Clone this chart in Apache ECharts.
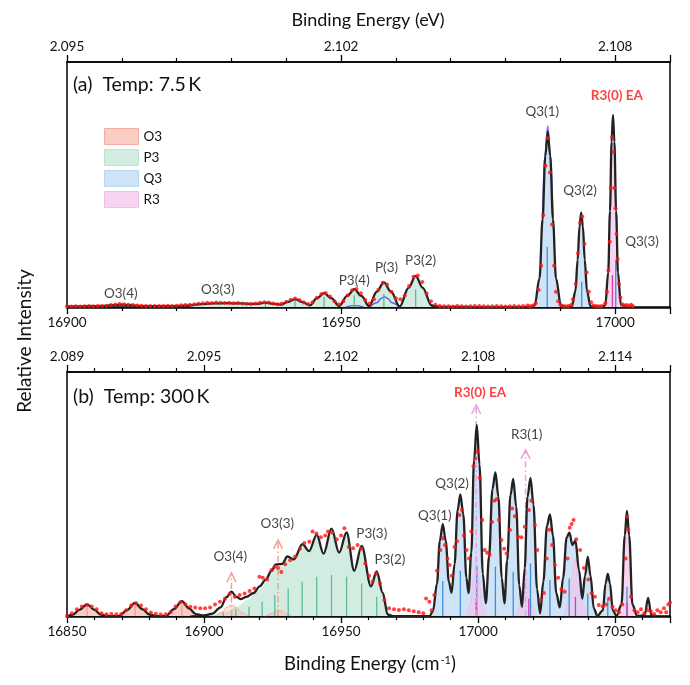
<!DOCTYPE html>
<html><head><meta charset="utf-8">
<script src="https://cdn.jsdelivr.net/npm/echarts@6.0.0/dist/echarts.min.js"></script>
<style>html,body{margin:0;padding:0;background:#fff}#c{width:690px;height:685px}</style>
</head><body><div id="c"></div>
<script>
// ---------- tick labels ----------
const cmTicksA = [16900, 16950, 17000];
const evTicksA = ['2.095', '2.102', '2.108'];
const cmTicksB = [16850, 16900, 16950, 17000, 17050];
const evTicksB = ['2.089', '2.095', '2.102', '2.108', '2.114'];
const legendNames = ['O3', 'P3', 'Q3', 'R3'];

// ---------- panel (a) 7.5 K ----------
const fitA = [[16900,0.003],[16904,0.004],[16907,0.006],[16908.5,0.01],[16910,0.013],[16911.5,0.01],[16913.5,0.005],[16917,0.004],[16920,0.005],[16922.5,0.009],[16924.5,0.015],[16926.5,0.019],[16929,0.02],[16931.5,0.019],[16933.3,0.016],[16934.8,0.017],[16936.2,0.023],[16937.6,0.017],[16939,0.013],[16940.3,0.027],[16941.6,0.041],[16942.9,0.027],[16944.3,0.009],[16945.6,0.046],[16946.9,0.072],[16948.2,0.046],[16949.65,0.005],[16951.1,0.058],[16952.4,0.093],[16953.7,0.058],[16955.1,0.004],[16956.5,0.08],[16957.8,0.128],[16959.1,0.08],[16960.7,0.003],[16962.3,0.1],[16963.6,0.162],[16964.9,0.1],[16966.5,0.008],[16968,0.001],[16975,0],[16984.5,0],[16985.3,0.008],[16986.2,0.15],[16986.75,0.457],[16987.25,0.785],[16987.7,0.913],[16988.15,0.785],[16988.65,0.457],[16989.2,0.15],[16990.1,0.008],[16991,0],[16992.1,0.004],[16992.75,0.085],[16993.15,0.245],[16993.49,0.42],[16993.8,0.491],[16994.11,0.42],[16994.45,0.245],[16994.85,0.085],[16995.5,0.004],[16997.5,0],[16998.2,0.01],[16998.73,0.18],[16999.05,0.5],[16999.34,0.86],[16999.6,1.0],[16999.86,0.86],[17000.17,0.5],[17000.5,0.18],[17001.05,0.01],[17002.3,0]];
const q1TipA = [[16986.75,0.47],[16987.25,0.81],[16987.7,0.943],[16988.15,0.81],[16988.65,0.47]];
const blueCompA = [[16955.3,0.002],[16956.5,0.022],[16957.3,0.045],[16957.9,0.054],[16958.5,0.045],[16959.3,0.022],[16960.5,0.002]];
const blueCompA2 = [[16950.8,0],[16952.5,0.007],[16954.2,0]];
const dotsA_x0 = 16900, dotsA_step = 0.8;
const dotsA_flat = [0.004,0.003,0.004,0.003,0.004,0.005,0.004,0.006,0.005,0.007,
 0.010,0.013,0.016,0.015,0.012,0.010,0.008,0.007,0.006,0.005,
 0.006,0.005,0.006,0.007,0.006,0.007,0.009,0.010,0.012,0.015,
 0.017,0.020,0.022,0.021,0.023,0.022,0.021,0.022,0.020,0.021,
 0.019,0.017,0.016,0.018,0.022,0.025,0.023,0.018,0.014,0.018,
 0.028,0.038,0.044,0.037,0.024,0.016,0.025,0.048,0.068,0.073,
 0.055,0.030,0.014,0.030,0.062,0.088,0.094,0.072,0.038,0.018,
 0.040,0.090,0.127,0.118,0.080,0.046,0.040,0.060,0.110,0.158,
 0.164,0.130,0.070,0.030,0.012,0.006,0.004,0.004,0.003,0.005,
 0.004,0.003,0.004,0.006,0.005,0.004,0.003,0.004,0.005,0.004,
 0.003,0.004,0.005,0.004,0.006,0.008];
const dotsA_peaks = [[16984.5,0.004],[16985.0,0.008],[16985.5,0.02],[16986.05,0.089],[16986.5,0.215],[16986.9,0.479],[16987.3,0.736],[16987.7,0.879],[16988.1,0.7],[16988.5,0.43],[16988.85,0.215],[16989.2,0.08],[16989.6,0.03],[16990.0,0.012],[16990.5,0.006],[16991.0,0.004],[16991.5,0.005],[16992.0,0.012],[16992.3,0.04],[16992.8,0.12],[16993.2,0.28],[16993.6,0.44],[16994.0,0.47],[16994.4,0.33],[16994.8,0.18],[16995.2,0.08],[16995.6,0.025],[16996.0,0.008],[16996.5,0.005],[16997.0,0.004],[16997.5,0.006],[16998.2,0.02],[16998.5,0.08],[16998.75,0.19],[16999.0,0.34],[16999.2,0.62],[16999.45,0.887],[16999.65,0.806],[16999.85,0.62],[17000.05,0.514],[17000.25,0.38],[17000.45,0.25],[17000.7,0.12],[17000.95,0.05],[17001.3,0.015],[17001.7,0.008],[17002.1,0.01],[17002.5,0.007],[17002.9,0.012],[17003.2,0.006]];
const p3SticksA = [[16936.2,0.024],[16941.6,0.036],[16946.9,0.054],[16952.4,0.062],[16957.8,0.068],[16963.6,0.092]];
const q3SticksA = [[16987.6,0.314],[16993.9,0.132],[17000.1,0.245]];
const r3SticksA = [[16999.5,0.167]];
const labelsA = [['O3(4)',16909.8,0.068],['O3(3)',16927.5,0.089],['P3(4)',16952.4,0.137],['P(3)',16958.3,0.203],['P3(2)',16964.5,0.241],['Q3(1)',16986.7,1.017],['Q3(2)',16993.6,0.604],['Q3(3)',17004.9,0.34]];
const eaLabelA = ['R3(0) EA',17000.3,1.099];

// ---------- panel (b) 300 K ----------
const fitB = [[16850,0.0],[16852,0.006],[16854.5,0.032],[16857.3,0.061],[16860,0.032],[16862.5,0.006],[16865,0.0],[16869,0.0],[16872,0.032],[16874.8,0.069],[16877.5,0.036],[16880,0.008],[16883,0.0],[16886,0.0],[16889,0.036],[16891.9,0.078],[16894.5,0.04],[16897,0.01],[16900,0.003],[16903,0.012],[16906,0.045],[16908.2,0.098],[16910,0.127],[16911.8,0.1],[16913.3,0.088],[16915.5,0.1],[16918.1,0.12],[16920.3,0.155],[16922.5,0.19],[16924.6,0.235],[16926.1,0.268],[16928.5,0.272],[16930.4,0.31],[16932.8,0.295],[16935.9,0.375],[16938.3,0.338],[16941.1,0.423],[16943.6,0.325],[16946.5,0.455],[16949.3,0.33],[16952,0.435],[16954.8,0.236],[16957.5,0.365],[16960.9,0.155],[16963,0.232],[16965.2,0.12],[16967,0.008],[16969,0.0],[16975,0],[16982.3,0],[16983.5,0.025],[16985,0.17],[16986,0.39],[16987.1,0.479],[16988.2,0.39],[16989.3,0.18],[16990.3,0.121],[16991.4,0.27],[16992.5,0.55],[16993.5,0.634],[16994.6,0.53],[16995.7,0.2],[16996.5,0.12],[16997.5,0.33],[16998.5,0.81],[16999.5,0.995],[17000.5,0.79],[17001.7,0.22],[17002.8,0.066],[17004,0.31],[17005.2,0.66],[17006.3,0.748],[17007.4,0.62],[17008.6,0.2],[17009.6,0.066],[17010.6,0.29],[17011.8,0.63],[17012.8,0.714],[17013.9,0.57],[17015,0.16],[17016,0.048],[17017,0.25],[17018,0.62],[17019.1,0.72],[17020.2,0.58],[17021.5,0.14],[17022.6,0.014],[17023.8,0.18],[17025.1,0.47],[17026.2,0.53],[17027.3,0.42],[17028.5,0.12],[17029.8,0.045],[17031,0.2],[17032.3,0.41],[17033.3,0.434],[17034.4,0.37],[17035.5,0.392],[17036.8,0.24],[17038,0.09],[17039,0.21],[17040,0.309],[17041,0.21],[17042.2,0.04],[17043.5,0.0],[17045.5,0.03],[17046.5,0.17],[17047.3,0.219],[17048.1,0.17],[17049.1,0.03],[17050.5,0.0],[17052.3,0.06],[17053.5,0.42],[17054.3,0.548],[17055.1,0.42],[17056.3,0.06],[17058,0],[17060.8,0.005],[17062,0.095],[17063.2,0.005],[17065,0]];
const pRampB = [[16900,0],[16904,0.008],[16908,0.022],[16912,0.048],[16916,0.085],[16920,0.135],[16923,0.18]];
const o3Comp4B = [[16904,0],[16906.5,0.02],[16908.3,0.045],[16910,0.057],[16911.7,0.045],[16913.5,0.02],[16916,0]];
const o3Comp3B = [[16922.5,0],[16924.8,0.012],[16926.2,0.026],[16927.3,0.031],[16928.5,0.026],[16930,0.012],[16932,0]];
const r3Comp0B = [[16995.8,0],[16997.2,0.06],[16998.3,0.2],[16999.3,0.31],[17000.3,0.2],[17001.4,0.06],[17002.8,0]];
const r3Comp1B = [[17013.8,0],[17015.3,0.06],[17016.4,0.17],[17017.4,0.25],[17018.4,0.17],[17019.5,0.06],[17021,0]];
const r3Comp2B = [[17031.5,0],[17033,0.08],[17034.3,0.22],[17035.4,0.3],[17036.5,0.22],[17037.8,0.08],[17039.3,0]];
const dotsB = [[16850,0.0],[16851.8,0.014],[16853.6,0.035],[16855.4,0.05],[16857.2,0.058],[16859,0.05],[16860.8,0.035],[16862.6,0.015],[16864.4,0.009],[16866.2,0.01],[16868,0.009],[16869.8,0.011],[16871.6,0.03],[16873.4,0.055],[16875.2,0.066],[16877,0.055],[16878.8,0.035],[16880.6,0.018],[16882.4,0.012],[16884.2,0.008],[16886,0.009],[16887.8,0.02],[16889.6,0.05],[16891.4,0.072],[16893.2,0.06],[16895,0.048],[16896.8,0.045],[16898.6,0.04],[16900.4,0.04],[16902.2,0.045],[16904,0.06],[16905.8,0.075],[16907.6,0.09],[16909.4,0.115],[16911.2,0.1],[16913,0.11],[16914.8,0.118],[16916.6,0.13],[16918.4,0.144],[16920.2,0.205],[16921.4,0.2],[16923,0.19],[16924.6,0.24],[16925.8,0.257],[16927,0.25],[16928.2,0.23],[16929.6,0.27],[16931.4,0.29],[16933.2,0.31],[16935,0.35],[16936.6,0.38],[16938.4,0.387],[16939.6,0.44],[16941,0.43],[16942.6,0.41],[16944.2,0.42],[16945.2,0.44],[16946.8,0.435],[16948.4,0.4],[16950,0.42],[16951.2,0.457],[16952.8,0.36],[16954.4,0.353],[16956,0.37],[16957.4,0.35],[16958.8,0.274],[16960.2,0.21],[16961.5,0.18],[16962.8,0.22],[16964.2,0.17],[16965.8,0.083],[16967.5,0.04],[16969.3,0.036],[16971.1,0.031],[16972.9,0.036],[16974.7,0.03],[16976.5,0.025],[16978.3,0.02],[16980,0.015],[16981,0.092],[16982.2,0.074],[16983,0.03],[16984,0.11],[16985,0.236],[16986.2,0.344],[16987.1,0.405],[16987.9,0.37],[16988.8,0.3],[16989.6,0.266],[16990.4,0.21],[16991.4,0.36],[16992.3,0.39],[16993.2,0.526],[16994.1,0.552],[16994.8,0.42],[16995.8,0.344],[16996.7,0.3],[16997.5,0.44],[16998.3,0.78],[16999.0,0.82],[16999.7,0.856],[17000.6,0.72],[17001.5,0.5],[17002.4,0.344],[17003.3,0.33],[17004.2,0.318],[17005.1,0.49],[17006.0,0.6],[17006.8,0.61],[17007.6,0.5],[17008.5,0.396],[17009.5,0.35],[17010.4,0.326],[17011.6,0.448],[17012.4,0.56],[17013.4,0.52],[17014.6,0.413],[17015.8,0.41],[17017.0,0.465],[17018.5,0.552],[17019.4,0.6],[17020.7,0.474],[17021.6,0.344],[17022.8,0.083],[17024,0.12],[17025,0.3],[17026,0.45],[17027,0.37],[17028,0.266],[17029.2,0.2],[17030.4,0.14],[17031.6,0.127],[17032.6,0.3],[17033.4,0.46],[17034.1,0.48],[17034.8,0.5],[17035.8,0.4],[17037.2,0.344],[17038.6,0.25],[17040.2,0.19],[17041.4,0.12],[17042.6,0.1],[17044,0.057],[17045.4,0.05],[17046.6,0.06],[17047.8,0.09],[17049,0.05],[17050.2,0.03],[17051.4,0.02],[17052.6,0.06],[17053.8,0.3],[17054.3,0.517],[17054.8,0.45],[17055.8,0.1],[17057,0.03],[17058.2,0.02],[17059.4,0.035],[17060.6,0.015],[17061.8,0.03],[17063,0.025],[17064.2,0.01],[17065.4,0.03],[17066.6,0.02],[17067.8,0.04],[17068.6,0.02],[17069.4,0.06],[17070,0.07]];
const o3SticksB = [[16857.3,0.045],[16874.8,0.05],[16891.9,0.055]];
const p3SticksB = [[16907,0.02],[16911.6,0.035],[16916.4,0.048],[16921.2,0.075],[16925.8,0.109],[16930.7,0.144],[16935.8,0.179],[16941.1,0.205],[16946.5,0.214],[16952,0.205],[16957.5,0.17],[16963,0.1]];
const q3SticksB = [[16987.1,0.182],[16993.5,0.236],[16999.5,0.257],[17006.3,0.257],[17012.8,0.231],[17019.1,0.274],[17026.2,0.1875],[17033.2,0.196],[17040,0.118],[17047.3,0.087],[17054.3,0.153]];
const r3SticksB = [[16999.3,0.092],[17018.5,0.09],[17035.5,0.1],[17054.3,0.07]];
const o3ArrowsB = [[16910,0,0.224],[16927,0,0.396]];
const r3ArrowsB = [[16999.3,0,1.099],[17017.3,0,0.865]];
const labelsB = [['O3(4)',16909.6,0.307],['O3(3)',16926.7,0.483],['P3(3)',16961.2,0.431],['P3(2)',16967.8,0.292],['Q3(1)',16984.2,0.521],['Q3(2)',16990.5,0.691],['R3(1)',17017.7,0.946]];
const eaLabelB = ['R3(0) EA',17000.7,1.163];

// ---------- styles ----------
const FONT = 'Lato, "Noto Sans", sans-serif';
const C = {
  o3Fill:'#f9cdc4', o3Edge:'#f2ad9f', o3Stick:'#f39a88',
  p3Fill:'#d3ece1', p3Edge:'#bfe2d2', p3Stick:'#5fbb97',
  q3Fill:'#cfe3f6', q3Edge:'#b6d5f1', q3Stick:'#3b8fdc',
  r3Fill:'#f7d4f0', r3Edge:'#f0bfe6', r3Stick:'#d63ba8',
  r3Arrow:'#f09ce2', o3Arrow:'#f4a090', fit:'#222222', dot:'#ff1414'
};
const inRange = (arr, a, b) => arr.filter(p => p[0] >= a && p[0] <= b);
const dotsA = dotsA_flat.map((v, i) => [+(dotsA_x0 + i * dotsA_step).toFixed(2), v]).concat(dotsA_peaks);

function fill(name, data, color, gi, opacity) {
  return {name, type:'line', xAxisIndex: gi*2, yAxisIndex: gi, data, smooth:0.35, smoothMonotone:'x',
    showSymbol:false, symbol:'none', lineStyle:{width:0}, itemStyle:{color},
    areaStyle:{color, opacity: opacity == null ? 1 : opacity}, silent:true, z:1};
}
function compLine(data, color, gi, width, areaColor) {
  const s = {type:'line', xAxisIndex: gi*2, yAxisIndex: gi, data, smooth:0.4, smoothMonotone:'x',
    showSymbol:false, symbol:'none', lineStyle:{width: width, color}, silent:true, z:2};
  if (areaColor) s.areaStyle = {color: areaColor};
  return s;
}
function sticks(data, color, gi) {
  return {type:'custom', coordinateSystem:'cartesian2d', xAxisIndex: gi*2, yAxisIndex: gi, data, z:3, silent:true,
    encode:{x:0, y:1},
    renderItem:(params, api) => {
      const p0 = api.coord([api.value(0), 0]);
      const p1 = api.coord([api.value(0), api.value(1)]);
      return {type:'line', shape:{x1:p0[0], y1:p0[1], x2:p1[0], y2:p1[1]}, style:{stroke:color, lineWidth:1.3}};
    }};
}
function arrows(data, color, gi) {
  return {type:'custom', coordinateSystem:'cartesian2d', xAxisIndex: gi*2, yAxisIndex: gi, data, z:4, silent:true,
    encode:{x:0, y:[1,2]},
    renderItem:(params, api) => {
      const p0 = api.coord([api.value(0), api.value(1)]);
      const p1 = api.coord([api.value(0), api.value(2)]);
      return {type:'group', children:[
        {type:'line', shape:{x1:p0[0], y1:p0[1], x2:p1[0], y2:p1[1]}, style:{stroke:color, lineWidth:1.5, lineDash:[6,3,1.5,3]}},
        {type:'polyline', shape:{points:[[p1[0]-4.5, p1[1]+9], [p1[0], p1[1]], [p1[0]+4.5, p1[1]+9]]}, style:{stroke:color, fill:null, lineWidth:1.5}}
      ]};
    }};
}
function labels(list, ea, gi) {
  const data = list.map(l => ({name:l[0], value:[l[1], l[2]]}));
  data.push({name:ea[0], value:[ea[1], ea[2]], label:{color:'#ff1010', fontWeight:'bold'}});
  return {type:'scatter', xAxisIndex: gi*2, yAxisIndex: gi, data, symbolSize:0, silent:true, z:10,
    label:{show:true, position:'inside', formatter:p => p.name, fontSize:13.5, color:'#111', fontFamily:FONT}};
}

function xAxisPair(gi, min, max, cmTicks, evTicks) {
  const common = {type:'value', gridIndex: gi, min, max, interval:50,
    axisLine:{show:true, lineStyle:{color:'#000', width:1.5}},
    axisTick:{show:true, length:7, lineStyle:{color:'#000', width:1.3}},
    minorTick:{show:true, splitNumber:5, length:4, lineStyle:{color:'#000', width:1.2}},
    splitLine:{show:false}, minorSplitLine:{show:false}};
  return [
    Object.assign({}, common, {position:'bottom',
      axisLabel:{show:true, margin:8, fontSize:13.5, color:'#111', fontFamily:FONT, showMaxLabel:false,
        formatter:v => cmTicks.indexOf(v) >= 0 ? String(v) : ''}}),
    Object.assign({}, common, {position:'top',
      axisLabel:{show:true, margin:8, fontSize:13.5, color:'#111', fontFamily:FONT, showMaxLabel:false,
        formatter:v => { const i = cmTicks.indexOf(v); return i >= 0 ? evTicks[i] : ''; }}})
  ];
}
const yAxisCommon = {type:'value', min:-0.005, axisLine:{show:false}, axisTick:{show:false}, axisLabel:{show:false}, splitLine:{show:false}};

const option = {
  backgroundColor:'#fff',
  animation:false,
  textStyle:{fontFamily:FONT},
  grid:[
    {left:67, right:20, top:62, height:246, show:true, borderColor:'#000', borderWidth:1.5, backgroundColor:'transparent'},
    {left:67, right:20, top:372, height:245, show:true, borderColor:'#000', borderWidth:1.5, backgroundColor:'transparent'}
  ],
  xAxis: xAxisPair(0, 16900, 17010, cmTicksA, evTicksA).concat(xAxisPair(1, 16850, 17070, cmTicksB, evTicksB)),
  yAxis:[Object.assign({gridIndex:0, max:1.276}, yAxisCommon), Object.assign({gridIndex:1, max:1.271}, yAxisCommon)],
  legend:{
    left:99, top:123, orient:'vertical', itemWidth:34, itemHeight:16, itemGap:4, selectedMode:false,
    textStyle:{fontSize:13.5, color:'#111', fontFamily:FONT},
    data:[
      {name:legendNames[0], icon:'rect', itemStyle:{color:C.o3Fill, borderColor:C.o3Edge, borderWidth:1}},
      {name:legendNames[1], icon:'rect', itemStyle:{color:C.p3Fill, borderColor:C.p3Edge, borderWidth:1}},
      {name:legendNames[2], icon:'rect', itemStyle:{color:C.q3Fill, borderColor:C.q3Edge, borderWidth:1}},
      {name:legendNames[3], icon:'rect', itemStyle:{color:C.r3Fill, borderColor:C.r3Edge, borderWidth:1}}
    ]
  },
  graphic:[
    {type:'text', x:368, y:20, style:{text:'Binding Energy (eV)', font:'18px ' + FONT, fill:'#111', align:'center', verticalAlign:'middle'}},
    {type:'text', x:370, y:664, style:{text:'Binding Energy (cm{sup|-1})', font:'18.5px ' + FONT, fill:'#111', align:'center', verticalAlign:'middle',
      rich:{sup:{fontSize:11, fontFamily:FONT, verticalAlign:'top', padding:[0,0,8,1]}}}},
    {type:'text', x:25, y:341, rotation:Math.PI/2, style:{text:'Relative Intensity', font:'19px ' + FONT, fill:'#111', align:'center', verticalAlign:'middle'}},
    {type:'text', x:73, y:85, style:{text:'(a)  Temp: 7.5\u2009K', font:'19.5px ' + FONT, fill:'#111', align:'left', verticalAlign:'middle'}},
    {type:'text', x:73, y:397, style:{text:'(b)  Temp: 300\u2009K', font:'19.5px ' + FONT, fill:'#111', align:'left', verticalAlign:'middle'}}
  ],
  series:[
    // panel a
    fill('P3', inRange(fitA, 16922.5, 16968), C.p3Fill, 0),
    fill('Q3', inRange(fitA, 16984.5, 16997.5), C.q3Fill, 0),
    fill('R3', inRange(fitA, 16997.5, 17002.3), C.r3Fill, 0),
    compLine(q1TipA, '#7878f2', 0, 1.5),
    compLine(blueCompA, '#5566dd', 0, 1.5),
    compLine(blueCompA2, '#5566dd', 0, 1.2),
    sticks(p3SticksA, C.p3Stick, 0),
    sticks(q3SticksA, C.q3Stick, 0),
    sticks(r3SticksA, C.r3Stick, 0),
    {type:'line', xAxisIndex:0, yAxisIndex:0, data:fitA, smooth:0.35, smoothMonotone:'x', showSymbol:false, symbol:'none', lineStyle:{color:C.fit, width:2.3}, z:5, silent:true},
    {type:'scatter', xAxisIndex:0, yAxisIndex:0, data:dotsA, symbolSize:4, itemStyle:{color:C.dot}, z:6, silent:true},
    labels(labelsA, eaLabelA, 0),
    // panel b
    fill('O3', inRange(fitB, 16850, 16899), C.o3Fill, 1),
    fill('P3', pRampB.concat(inRange(fitB, 16924.6, 16969)), C.p3Fill, 1),
    fill('Q3', inRange(fitB, 16982.3, 17050.5), C.q3Fill, 1),
    fill('R3', inRange(fitB, 17050.5, 17058), C.r3Fill, 1),
    compLine(o3Comp4B, C.o3Edge, 1, 1, 'rgba(244,170,150,0.45)'),
    compLine(o3Comp3B, C.o3Edge, 1, 1, 'rgba(244,170,150,0.45)'),
    compLine(r3Comp0B, C.r3Edge, 1, 1, 'rgba(246,190,236,0.75)'),
    compLine(r3Comp1B, C.r3Edge, 1, 1, 'rgba(246,190,236,0.75)'),
    compLine(r3Comp2B, C.r3Edge, 1, 1, 'rgba(246,190,236,0.75)'),
    sticks(o3SticksB, C.o3Stick, 1),
    sticks(p3SticksB, C.p3Stick, 1),
    sticks(q3SticksB, C.q3Stick, 1),
    sticks(r3SticksB, C.r3Stick, 1),
    arrows(o3ArrowsB, C.o3Arrow, 1),
    arrows(r3ArrowsB, C.r3Arrow, 1),
    {type:'line', xAxisIndex:2, yAxisIndex:1, data:fitB, smooth:0.35, smoothMonotone:'x', showSymbol:false, symbol:'none', lineStyle:{color:C.fit, width:2.3}, z:5, silent:true},
    {type:'scatter', xAxisIndex:2, yAxisIndex:1, data:dotsB, symbolSize:4, itemStyle:{color:C.dot}, z:6, silent:true},
    labels(labelsB, eaLabelB, 1)
  ]
};
const chart = echarts.init(document.getElementById('c'), null, {renderer:'canvas'});
chart.setOption(option);
</script></body></html>
